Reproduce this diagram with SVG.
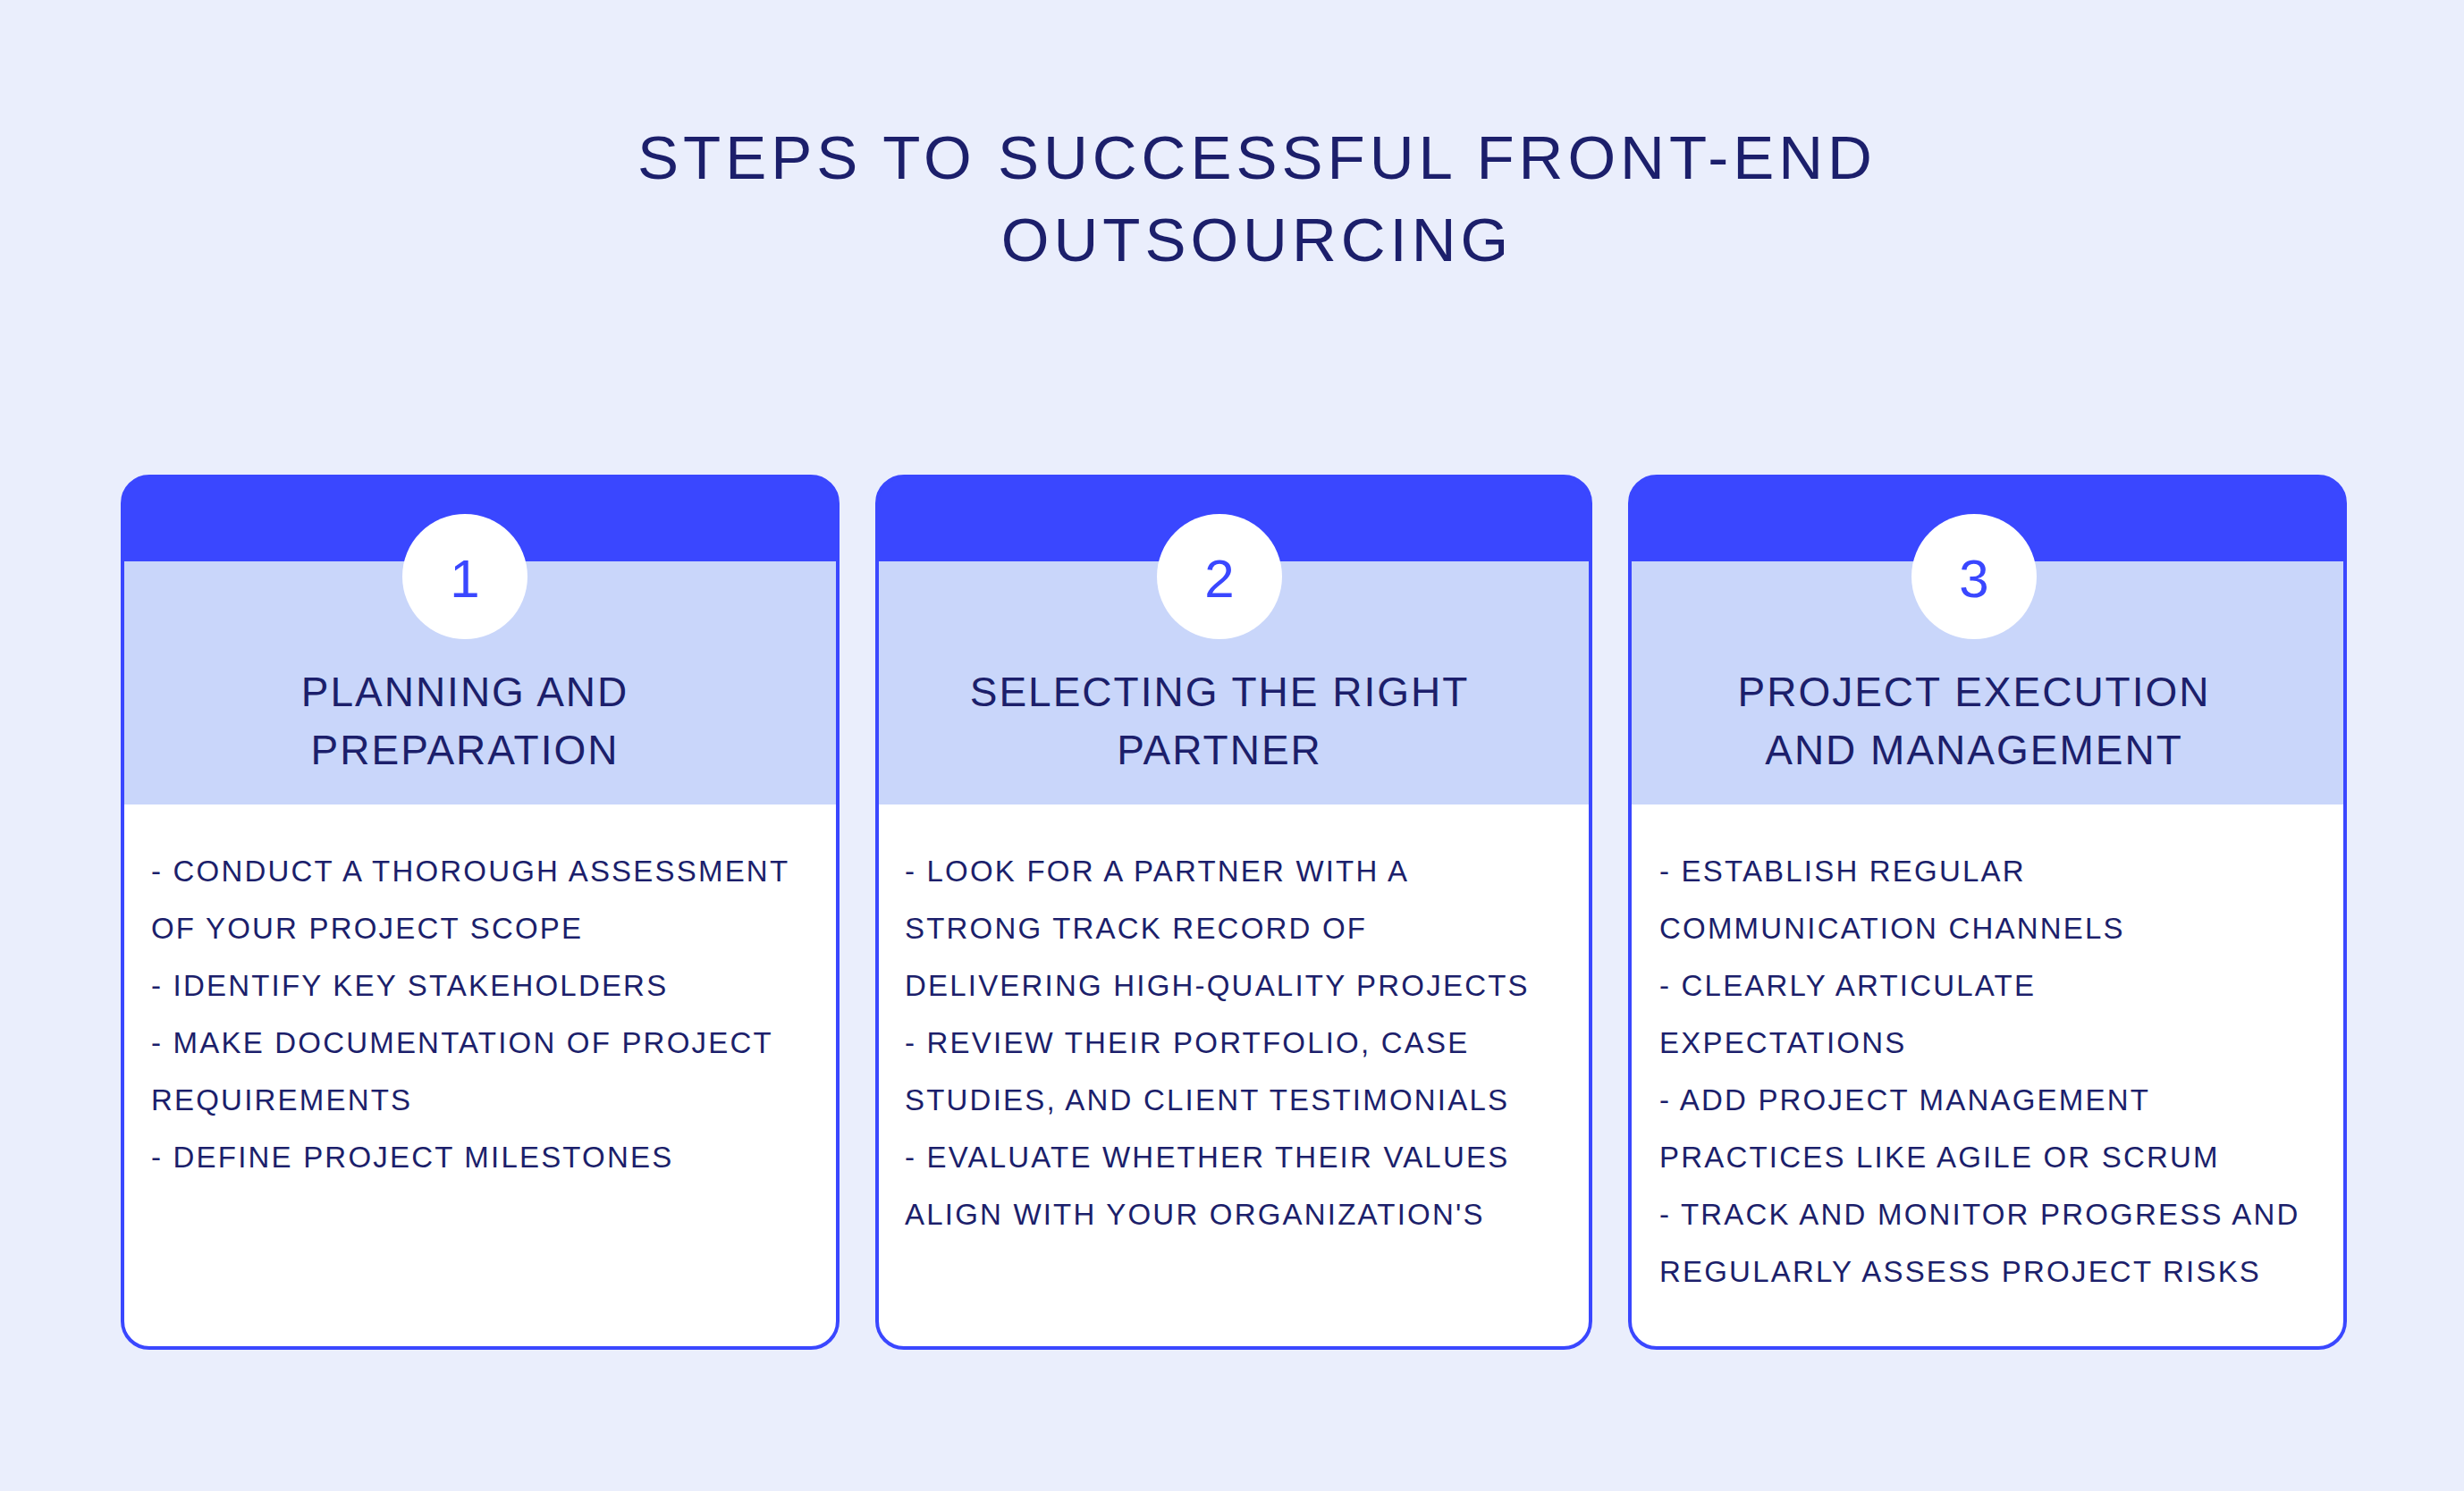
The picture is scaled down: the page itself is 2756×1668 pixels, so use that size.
<svg xmlns="http://www.w3.org/2000/svg" width="2756" height="1668" viewBox="0 0 2756 1668">
<style>
.t{font-family:"Liberation Sans",Arial,sans-serif;fill:#1c1f6b;text-anchor:middle}
.title{font-size:69px;letter-spacing:5px}
.ct{font-size:46px;letter-spacing:2px}
.b{font-family:"Liberation Sans",Arial,sans-serif;fill:#1c1f6b;font-size:33px;letter-spacing:2.2px}
.num{font-family:"Liberation Sans",Arial,sans-serif;fill:#3a47ff;font-size:60px;text-anchor:middle}
.band{fill:#c9d6fa}
.head{fill:#3a47ff}
.out{fill:none;stroke:#3a47ff;stroke-width:4}
</style>
<defs>
<clipPath id="c1"><rect x="137" y="533" width="800" height="975" rx="30"/></clipPath>
<clipPath id="c2"><rect x="981" y="533" width="798" height="975" rx="30"/></clipPath>
<clipPath id="c3"><rect x="1823" y="533" width="800" height="975" rx="30"/></clipPath>
</defs>
<rect width="2756" height="1668" fill="#eaeefc"/>
<g id="title">
<text class="t title" x="1406" y="200">STEPS TO SUCCESSFUL FRONT-END</text>
<text class="t title" x="1406" y="292">OUTSOURCING</text>
</g>
<g id="card1">
<g clip-path="url(#c1)">
<rect x="137" y="533" width="800" height="975" fill="#fff"/>
<rect class="band" x="137" y="628" width="800" height="272"/>
<rect class="head" x="137" y="533" width="800" height="95"/>
</g>
<rect class="out" x="137" y="533" width="800" height="975" rx="30"/>
<circle cx="520" cy="645" r="70" fill="#fff"/>
<text class="num" x="520" y="668">1</text>
<text class="t ct" x="520" y="790">PLANNING AND</text>
<text class="t ct" x="520" y="855">PREPARATION</text>
<text class="b" x="169" y="986">- CONDUCT A THOROUGH ASSESSMENT</text>
<text class="b" x="169" y="1050">OF YOUR PROJECT SCOPE</text>
<text class="b" x="169" y="1114">- IDENTIFY KEY STAKEHOLDERS</text>
<text class="b" x="169" y="1178">- MAKE DOCUMENTATION OF PROJECT</text>
<text class="b" x="169" y="1242">REQUIREMENTS</text>
<text class="b" x="169" y="1306">- DEFINE PROJECT MILESTONES</text>
</g>
<g id="card2">
<g clip-path="url(#c2)">
<rect x="981" y="533" width="798" height="975" fill="#fff"/>
<rect class="band" x="981" y="628" width="798" height="272"/>
<rect class="head" x="981" y="533" width="798" height="95"/>
</g>
<rect class="out" x="981" y="533" width="798" height="975" rx="30"/>
<circle cx="1364" cy="645" r="70" fill="#fff"/>
<text class="num" x="1364" y="668">2</text>
<text class="t ct" x="1364" y="790">SELECTING THE RIGHT</text>
<text class="t ct" x="1364" y="855">PARTNER</text>
<text class="b" x="1012" y="986">- LOOK FOR A PARTNER WITH A</text>
<text class="b" x="1012" y="1050">STRONG TRACK RECORD OF</text>
<text class="b" x="1012" y="1114">DELIVERING HIGH-QUALITY PROJECTS</text>
<text class="b" x="1012" y="1178">- REVIEW THEIR PORTFOLIO, CASE</text>
<text class="b" x="1012" y="1242">STUDIES, AND CLIENT TESTIMONIALS</text>
<text class="b" x="1012" y="1306">- EVALUATE WHETHER THEIR VALUES</text>
<text class="b" x="1012" y="1370">ALIGN WITH YOUR ORGANIZATION'S</text>
</g>
<g id="card3">
<g clip-path="url(#c3)">
<rect x="1823" y="533" width="800" height="975" fill="#fff"/>
<rect class="band" x="1823" y="628" width="800" height="272"/>
<rect class="head" x="1823" y="533" width="800" height="95"/>
</g>
<rect class="out" x="1823" y="533" width="800" height="975" rx="30"/>
<circle cx="2208" cy="645" r="70" fill="#fff"/>
<text class="num" x="2208" y="668">3</text>
<text class="t ct" x="2208" y="790">PROJECT EXECUTION</text>
<text class="t ct" x="2208" y="855">AND MANAGEMENT</text>
<text class="b" x="1856" y="986">- ESTABLISH REGULAR</text>
<text class="b" x="1856" y="1050">COMMUNICATION CHANNELS</text>
<text class="b" x="1856" y="1114">- CLEARLY ARTICULATE</text>
<text class="b" x="1856" y="1178">EXPECTATIONS</text>
<text class="b" x="1856" y="1242">- ADD PROJECT MANAGEMENT</text>
<text class="b" x="1856" y="1306">PRACTICES LIKE AGILE OR SCRUM</text>
<text class="b" x="1856" y="1370">- TRACK AND MONITOR PROGRESS AND</text>
<text class="b" x="1856" y="1434">REGULARLY ASSESS PROJECT RISKS</text>
</g>
<g id="connectors"/>
</svg>
